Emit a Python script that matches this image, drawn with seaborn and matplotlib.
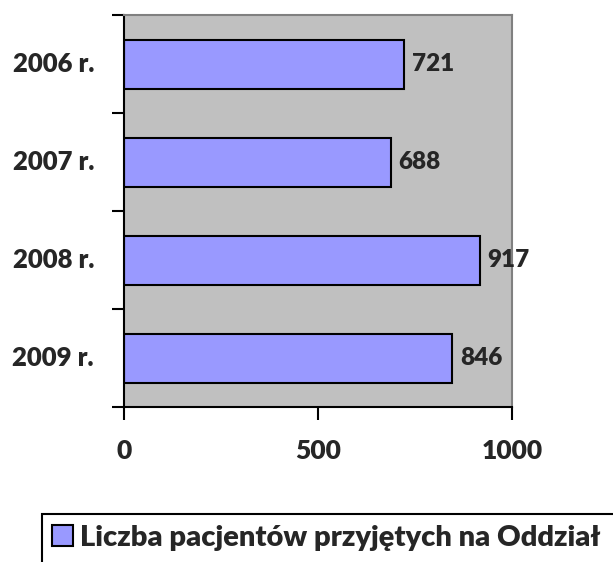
import matplotlib
matplotlib.use('Agg')
import matplotlib.pyplot as plt
import seaborn as sns
import pandas as pd
from matplotlib.patches import Rectangle, Patch

lata = ['2006 r.', '2007 r.', '2008 r.', '2009 r.']
pacjenci = [721, 688, 917, 846]
seria = 'Liczba pacjentów przyjętych na Oddział'

df = pd.DataFrame({'rok': lata, 'liczba': pacjenci})

sns.set_style('white')
plt.rcParams['font.family'] = ['Lato', 'DejaVu Sans']

W, H = 613, 562
fig = plt.figure(figsize=(W / 100, H / 100), dpi=100)
ax = fig.add_axes([124 / W, 1 - 407 / H, (512 - 124) / W, (407 - 15) / H])
ax.set_facecolor('#C0C0C0')

sns.barplot(data=df, y='rok', x='liczba', color='#9999FF', edgecolor='black',
            linewidth=1.5, width=0.5, saturation=1, ax=ax)

# etykiety wartości
for i, v in enumerate(pacjenci):
    ax.text(v + 20, i, str(v), va='center', ha='left', fontsize=17.5, fontweight='heavy')

ax.set_xlim(0, 1000)
ax.set_ylim(3.5, -0.5)
ax.set_xticks([0, 500, 1000])
ax.set_xticklabels(['0', '500', '1000'], fontsize=19, fontweight='heavy')
ax.set_yticks([-0.5, 0.5, 1.5, 2.5, 3.5])
ax.set_yticklabels([])
ax.set_xlabel('')
ax.set_ylabel('')
ax.tick_params(axis='both', direction='out', length=9, width=1.5, color='black',
               left=True, bottom=True, pad=14)
for i, rok in enumerate(lata):
    ax.text(-30 / 388, 1 - (i + 0.5) / 4, rok, transform=ax.transAxes,
            ha='right', va='center', fontsize=18.5, fontweight='heavy')

for s in ['left', 'bottom']:
    ax.spines[s].set_color('black')
    ax.spines[s].set_linewidth(1.5)
for s in ['right', 'top']:
    ax.spines[s].set_color('#808080')
    ax.spines[s].set_linewidth(1.5)
    ax.spines[s].set_visible(True)

# ramka legendy wychodzi poza obraz
fig.patches.append(Rectangle((42 / W, -0.1), 1.0, 1 - 514 / H + 0.1,
                             transform=fig.transFigure, fill=False,
                             edgecolor='black', linewidth=1.5))
fig.legend(handles=[Patch(facecolor='#9999FF', edgecolor='black', linewidth=1.5, label=seria)],
           loc='center left', bbox_to_anchor=(52 / W, 1 - 538 / H), frameon=False,
           prop={'size': 21, 'weight': 'heavy'}, handlelength=0.72, handleheight=0.72,
           handletextpad=0.25, borderpad=0, borderaxespad=0)

fig.savefig('out.png', dpi=100)
